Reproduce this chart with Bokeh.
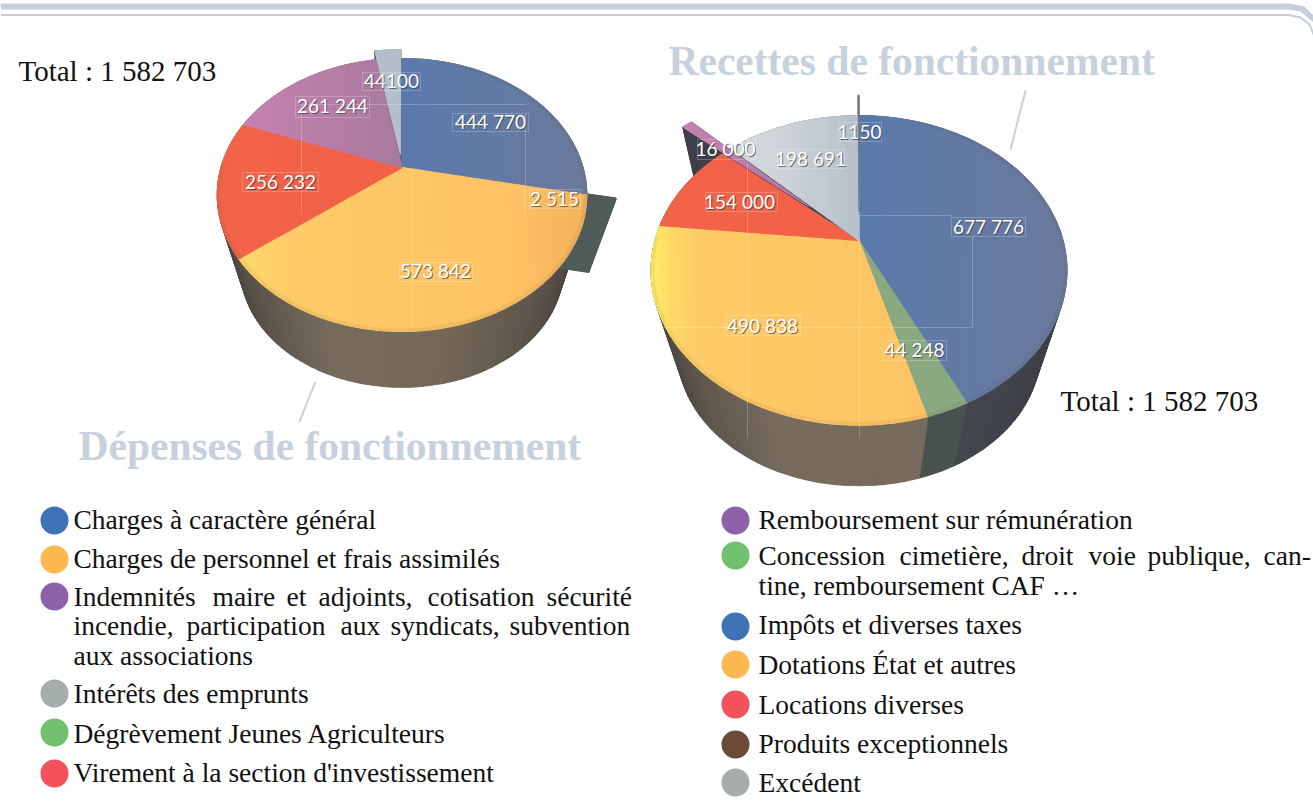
import math
from bokeh.plotting import figure
from bokeh.models import Range1d, ColumnDataSource
from bokeh.core.properties import value
from bokeh.embed import file_html
from bokeh.resources import INLINE

# ---------- data ----------
dep_names = ["Charges à caractère général", "Dégrèvement Jeunes Agriculteurs", "Charges de personnel et frais assimilés",
             "Virement à la section d'investissement", "Indemnités maire et adjoints", "Intérêts des emprunts"]
dep_values = [444770, 2515, 573842, 256232, 261244, 44100]
dep_labels = ["444 770", "2 515", "573 842", "256 232", "261 244", "44100"]

rec_names = ["Impôts et diverses taxes", "Concession cimetière", "Dotations État et autres", "Locations diverses",
             "Remboursement sur rémunération", "Excédent", "Produits exceptionnels"]
rec_values = [677776, 44248, 490838, 154000, 16000, 198691, 1150]
rec_labels = ["677 776", "44 248", "490 838", "154 000", "16 000", "198 691", "1150"]

total_label = "Total : 1 582 703"
title_dep = "Dépenses de fonctionnement"
title_rec = "Recettes de fonctionnement"

legend_left = [("Charges à caractère général", "#3f73b8"), ("Charges de personnel et frais assimilés", "#fdb94f"),
               (None, "#8e62a8"), (None, None), ("aux associations", None),
               ("Intérêts des emprunts", "#a5adad"), ("Dégrèvement Jeunes Agriculteurs", "#70c06e"),
               ("Virement à la section d'investissement", "#f2535a")]
legend_right = [("Remboursement sur rémunération", "#8e62a8"), (None, "#70c06e"),
                ("tine, remboursement CAF …", None), ("Impôts et diverses taxes", "#3f73b8"),
                ("Dotations État et autres", "#fdb94f"), ("Locations diverses", "#f2535a"),
                ("Produits exceptionnels", "#6b4a38"), ("Excédent", "#a5adad")]
# justified lines, word by word
just_words = ["Indemnités", "maire", "et", "adjoints,", "cotisation", "sécurité",
              "incendie,", "participation", "aux", "syndicats,", "subvention",
              "Concession", "cimetière,", "droit", "voie", "publique,", "can-"]
just_x = [73, 212, 286, 318, 427, 546, 73, 186, 340, 390, 509, 758, 899, 1021, 1088, 1147, 1263]
just_y = [596] * 6 + [625] * 5 + [555] * 6

# ---------- layout / style ----------
LEFT_Y = [519, 558, 596, 625, 655, 693, 733, 772]
LEFT_CY = [520, 559, 596, None, None, 693, 732, 773]
RIGHT_Y = [519, 555, 585, 624, 664, 704, 743, 782]
RIGHT_CY = [520, 555, None, 626, 664, 704, 744, 782]

BLUE = [(0.5, "#5a7aac"), (1, "#6b7a9c")]
YEL_L = [(0.02, "#ffde66"), (0.2, "#fecb68"), (0.8, "#fdc263"), (1, "#f4b25b")]
YEL_R = [(0.0, "#fff468"), (0.05, "#ffdc66"), (0.12, "#fecb66"), (0.8, "#fdc263")]
RED = [(0, "#f2644a"), (1, "#ef5f45")]
PUR = [(0.1, "#c481b0"), (0.5, "#a87a9e")]
SIL_L = [(0, "#b5bfc9"), (1, "#b5bfc9")]
SIL_R = [(0.3, "#d0d6db"), (0.5, "#b6c0ca")]
GRN = [(0, "#8aa981"), (1, "#8aa981")]
DKSL = [(0, "#4f5b58"), (1, "#4f5b58")]
GRY = [(0, "#777777"), (1, "#777777")]
BROWN = [(0, "#45413e"), (0.1, "#5b544a"), (0.3, "#776b5e"), (0.6, "#746859"), (0.85, "#5f564c"), (1, "#48433e")]
BROWN_R = [(0, "#45413e"), (0.1, "#5d554b"), (0.3, "#776b5e"), (0.8, "#766a5c"), (1, "#766a5c")]
DKBLUE = [(0.6, "#4a4c54"), (1, "#3c3d45")]
DKGRN = [(0, "#48524f"), (1, "#48524f")]

left_pie = dict(cx=401.5, cy=167, A=131, B=181, p=0.2015, cy2=244, A2=114, B2=158,
                values=dep_values, labels=dep_labels,
                tops=[BLUE, DKSL, YEL_L, RED, PUR, SIL_L],
                walls=[BROWN, BROWN, BROWN, BROWN, BROWN, BROWN],
                explode=[0, 0.15, 0, 0, 0, 0.10],
                dark=["", "#4f5b58", "", "", "", "#5c6066"],
                hole=["", "#fdc263", "", "", "", "#5c6066"],
                under=[False, True, False, False, False, False],
                lx=[490, 554, 435, 280, 332, 391], ly=[121, 198, 270, 181, 105, 80])
right_pie = dict(cx=858.5, cy=240, A=149, B=204, p=0.1935, cy2=324, A2=130, B2=178,
                 values=rec_values, labels=rec_labels,
                 tops=[BLUE, GRN, YEL_R, RED, PUR, SIL_R, GRY],
                 walls=[DKBLUE, DKGRN, BROWN_R, BROWN_R, BROWN_R, BROWN_R, BROWN_R],
                 explode=[0, 0, 0, 0, 0.35, 0, 0.2],
                 dark=["", "", "", "", "#3e3f4a", "", "#6f6f70"],
                 hole=["", "", "", "", "#3e3f4a", "", "#6f6f70"],
                 under=[False] * 7,
                 lx=[988, 914, 762, 739, 725, 810, 859], ly=[226, 349, 325, 201, 148, 158, 131])

hair_dep = [([452, 528, 528, 452, 452], [113, 113, 131, 131, 113]), ([525, 525], [113, 215]), ([301, 525], [104, 104]),
            ([301, 301], [104, 214]), ([295, 369, 369, 295, 295], [96, 96, 117, 117, 96]),
            ([242, 318, 318, 242, 242], [172, 172, 191, 191, 172]), ([362, 420, 420, 362, 362], [72, 72, 90, 90, 72]),
            ([529, 580, 580, 529, 529], [189, 189, 208, 208, 189]), ([399, 472, 472, 399, 399], [262, 262, 281, 281, 262]),
            ([412, 412], [168, 327])]
hair_rec = [([951, 1025, 1025, 951, 951], [217, 217, 236, 236, 217]), ([972, 972], [236, 327]), ([662, 972], [327, 327]),
            ([725, 800, 800, 725, 725], [315, 315, 335, 335, 315]), ([882, 946, 946, 882, 882], [340, 340, 360, 360, 340]),
            ([705, 777, 777, 705, 705], [192, 192, 211, 211, 192]), ([777, 844, 844, 777, 777], [149, 149, 168, 168, 149]),
            ([697, 755, 755, 697, 697], [139, 139, 159, 159, 139]), ([838, 881, 881, 838, 838], [122, 122, 141, 141, 122]),
            ([747, 747], [160, 438]), ([859, 859], [215, 438]), ([859, 951], [215, 215])]


def hex2rgb(h):
    return tuple(int(h[i:i + 2], 16) for i in (1, 3, 5))


def shade(stops, t):
    if t <= stops[0][0]:
        return stops[0][1]
    if t >= stops[-1][0]:
        return stops[-1][1]
    for (t0, c0), (t1, c1) in zip(stops, stops[1:]):
        if t0 <= t <= t1:
            f = (t - t0) / (t1 - t0)
            a, b = hex2rgb(c0), hex2rgb(c1)
            return "#%02x%02x%02x" % tuple(round(a[i] + (b[i] - a[i]) * f) for i in range(3))


def proj(pie, th, r, e_th=None, e=0.0, low=False):
    u, v = r * math.sin(th), -r * math.cos(th)
    if e_th is not None:
        u += e * math.sin(e_th)
        v += -e * math.cos(e_th)
    s = 1 / (1 - pie["p"] * v)
    if low:
        return pie["cx"] + pie["B2"] * u * s, pie["cy2"] + pie["A2"] * v * s
    return pie["cx"] + pie["B"] * u * s, pie["cy"] + pie["A"] * v * s


def clip(poly, xa, xb):
    def cut(pts, lim, sign):
        out = []
        for i in range(len(pts)):
            a, b = pts[i], pts[(i + 1) % len(pts)]
            ina, inb = sign * (a[0] - lim) >= 0, sign * (b[0] - lim) >= 0
            if ina:
                out.append(a)
            if ina != inb:
                f = (lim - a[0]) / (b[0] - a[0])
                out.append((lim, a[1] + (b[1] - a[1]) * f))
        return out
    pts = cut(poly, xa, 1)
    return cut(pts, xb, -1) if pts else pts


p = figure(width=1313, height=810, x_range=Range1d(0, 1313), y_range=Range1d(810, 0), x_axis_type=None, y_axis_type=None,
           output_backend="svg", toolbar_location=None, min_border=0, outline_line_color=None, background_fill_color="white")
p.grid.visible = False


def add_patches(items):
    if items:
        src = ColumnDataSource(dict(xs=[i[0] for i in items], ys=[i[1] for i in items], c=[i[2] for i in items]))
        p.patches("xs", "ys", source=src, fill_color="c", line_color="c", line_width=1.1)


def draw_pie(pie):
    total = sum(pie["values"])
    angs = [0]
    for v in pie["values"]:
        angs.append(angs[-1] + v / total * 2 * math.pi)
    tmin = pie["cx"] - pie["B"] * 1.03
    span = pie["B"] * 2.06
    step = math.radians(2)
    # wall
    quads = []
    n = int(2 * math.pi / step)
    for i in range(n):
        a0, a1 = i * step, (i + 1) * step
        mid = (a0 + a1) / 2
        k = next(j for j in range(len(pie["values"])) if angs[j] <= mid < angs[j + 1] or j == len(pie["values"]) - 1)
        t0, t1 = proj(pie, a0, 1), proj(pie, a1, 1)
        b0, b1 = proj(pie, a0, 1, low=True), proj(pie, a1, 1, low=True)
        t = ((t0[0] + t1[0]) / 2 - tmin) / span
        quads.append((-math.cos(mid), [t0[0], t1[0], b1[0], b0[0]], [t0[1], t1[1], b1[1], b0[1]], shade(pie["walls"][k], t)))
    quads.sort(key=lambda q: q[0])
    add_patches([(q[1], q[2], q[3]) for q in quads])
    # exploded bodies
    dark = []
    for k, e in enumerate(pie["explode"]):
        if not e:
            continue
        a0, a1 = angs[k], angs[k + 1]
        m = (a0 + a1) / 2
        for a in (a0, a1):
            pts = [proj(pie, a, 0, m, e), proj(pie, a, 1, m, e), proj(pie, a, 1, m, e, True), proj(pie, a, 0, m, e, True)]
            dark.append(([q[0] for q in pts], [q[1] for q in pts], pie["dark"][k]))
        pts = [proj(pie, a0, 1, m, e), proj(pie, a1, 1, m, e), proj(pie, a1, 1, m, e, True), proj(pie, a0, 1, m, e, True)]
        dark.append(([q[0] for q in pts], [q[1] for q in pts], pie["dark"][k]))
    add_patches(dark)
    # top surfaces cut in vertical strips for the horizontal gradient
    strips, strips_top, strips_under = [], [], []
    for k in range(len(pie["values"])):
        a0, a1 = angs[k], angs[k + 1]
        e = pie["explode"][k]
        m = (a0 + a1) / 2
        cnt = max(3, int((a1 - a0) / step) + 1)
        poly = [proj(pie, a0, 0, m, e)] + [proj(pie, a0 + (a1 - a0) * i / cnt, 1, m, e) for i in range(cnt + 1)]
        xa, xb = min(q[0] for q in poly), max(q[0] for q in poly)
        x = xa
        target = strips_under if pie["under"][k] else (strips_top if e else strips)
        while x < xb:
            x2 = min(x + 4, xb)
            c = clip(poly, x, x2)
            if len(c) >= 3:
                col = shade(pie["tops"][k], ((x + x2) / 2 - tmin) / span)
                target.append(([q[0] for q in c], [q[1] for q in c], col))
            x = x2
        if e:
            hole = [(pie["cx"], pie["cy"])] + [proj(pie, a0 + (a1 - a0) * i / 6, 1) for i in range(7)]
            strips_under.append(([q[0] for q in hole], [q[1] for q in hole], pie["hole"][k]))
    add_patches(strips_under)
    add_patches(strips)
    add_patches(strips_top)
    # soft rim
    rim = [proj(pie, math.radians(a), 0.992) for a in range(20, 275, 3)]
    p.line([q[0] for q in rim], [q[1] for q in rim], line_color="#4a4030", line_alpha=0.08, line_width=3)


def draw_labels(pie, hair):
    p.multi_line([h[0] for h in hair], [h[1] for h in hair], line_color="white", line_alpha=0.22, line_width=1)
    f = value("Lato")
    p.text(x=[v + 1 for v in pie["lx"]], y=[v + 1.2 for v in pie["ly"]], text=pie["labels"], text_font=f, text_font_size="19px",
           text_align="center", text_baseline="middle", text_color="#33302c", text_alpha=0.65)
    p.text(x=pie["lx"], y=pie["ly"], text=pie["labels"], text_font=f, text_font_size="19px",
           text_align="center", text_baseline="middle", text_color="white")


draw_pie(right_pie)
draw_pie(left_pie)
draw_labels(right_pie, hair_rec)
draw_labels(left_pie, hair_dep)

serif = value("Liberation Serif")
# frame bands at the top
p.patches([[0, 1290, 1304, 1313, 1313, 1300, 1288, 0]], [[3, 3, 6, 15, 22, 11, 9, 9]], fill_color="#c5cfdb", line_color=None)
p.line([0, 1288, 1300, 1309, 1313], [14.5, 14.5, 17, 24, 34], line_color="#c5cfdb", line_width=2)
# connectors
p.line([1025, 1010], [90, 149], line_color="#c5d0dc", line_width=2)
p.line([315, 299], [381, 421], line_color="#c5d0dc", line_width=2)
# titles
p.text(x=[668], y=[60], text=[title_rec], text_font=serif, text_font_style="bold", text_font_size="41.5px",
       text_color="#c6d1dd", text_baseline="middle")
p.text(x=[78], y=[445], text=[title_dep], text_font=serif, text_font_style="bold", text_font_size="41.5px",
       text_color="#c6d1dd", text_baseline="middle")
p.text(x=[18, 1060], y=[70, 400], text=[total_label, total_label], text_font=serif, text_font_size="29px",
       text_color="#111111", text_baseline="middle")


def draw_legend(entries, ys, cys, tx, cx):
    rows = [(e[0], y) for e, y in zip(entries, ys) if e[0]]
    p.text(x=[tx] * len(rows), y=[r[1] for r in rows], text=[r[0] for r in rows], text_font=serif, text_font_size="27.5px",
           text_color="#111111", text_baseline="middle")
    items = [(cy, e[1]) for cy, e in zip(cys, entries) if e[1]]
    p.ellipse(x=[cx] * len(items), y=[i[0] for i in items], width=28, height=28, width_units="screen", height_units="screen",
              fill_color=[i[1] for i in items], line_color=None)


draw_legend(legend_left, LEFT_Y, LEFT_CY, 73, 54)
draw_legend(legend_right, RIGHT_Y, RIGHT_CY, 758, 735)
p.text(x=just_x, y=just_y, text=just_words, text_font=serif, text_font_size="27.5px", text_color="#111111", text_baseline="middle")

open("out.html", "w").write(file_html(p, INLINE))
